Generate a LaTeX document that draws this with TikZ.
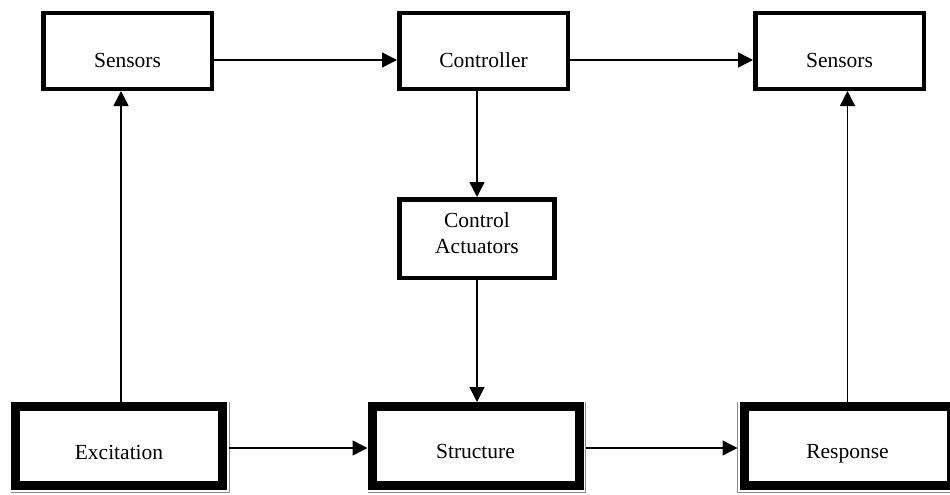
\documentclass[tikz,border=0pt]{standalone}
\usepackage{fontspec}
\setmainfont{Liberation Serif}
\usetikzlibrary{arrows.meta}
\begin{document}
\begin{tikzpicture}[x=1pt,y=-1pt,
  topbox/.style={draw=black, line width=4.5pt, minimum width=168.5pt, minimum height=75.5pt, inner sep=0pt, fill=white},
  midbox/.style={draw=black, line width=4.5pt, minimum width=155pt, minimum height=78.5pt, inner sep=0pt, fill=white},
  botbox/.style={draw=black, line width=9pt, minimum width=207pt, minimum height=79pt, inner sep=0pt, fill=white},
  lbl/.style={font=\fontsize{21.5}{26}\selectfont, anchor=base, inner sep=0pt, align=center},
  arr/.style={line width=1.4pt, -{Triangle[length=15pt, width=15pt]}},
  edge/.style={draw=black!45, line width=1pt}
]
\useasboundingbox (0,0) rectangle (950,495);

% top row
\node[topbox] (s1) at (127.5,51) {};
\node[topbox] (ctrl) at (483.5,51) {};
\node[topbox] (s2) at (839.5,51) {};
% middle
\node[midbox] (ca) at (477,238.5) {};
% bottom row
\node[botbox] (exc) at (119,446) {};
\node[botbox] (str) at (475.5,446) {};
\node[botbox] (resp) at (847.5,446) {};

% thin outer edges of bottom boxes
\draw[edge] ([xshift=2pt]exc.north east) -- ([shift={(2pt,-2pt)}]exc.south east) -- ([yshift=-2pt]exc.south west);
\draw[edge] ([xshift=2pt]str.north east) -- ([shift={(2pt,-2pt)}]str.south east) -- ([yshift=-2pt]str.south west);
\draw[edge] ([xshift=-2pt]resp.north west) -- ([shift={(-2pt,-2pt)}]resp.south west) -- ([yshift=-2pt]resp.south east);

% labels
\node[lbl] (t1) at ([yshift=-16pt]s1.center) {Sensors};
\node[lbl] (t2) at ([yshift=-16pt]ctrl.center) {Controller};
\node[lbl] (t3) at ([yshift=-16pt]s2.center) {Sensors};
\node[lbl] (t4) at ([yshift=-14.5pt]ca.center) {Control\\Actuators};
\node[lbl] (t5) at ([yshift=-13pt]exc.center) {Excitation};
\node[lbl] (t6) at ([yshift=-12pt]str.center) {Structure};
\node[lbl] (t7) at ([yshift=-12pt]resp.center) {Response};

% connectors
\draw[arr] ([yshift=-9pt]s1.east) -- ([yshift=-9pt]ctrl.west);
\draw[arr] ([yshift=-9pt]ctrl.east) -- ([yshift=-9pt]s2.west);
\draw[arr] (ctrl.south -| ca.north) -- (ca.north);
\draw[arr] (ca.south) -- (ca.south |- str.north);
\draw[arr] ([shift={(2pt,-2pt)}]exc.east) -- ([yshift=-2pt]str.west);
\draw[arr] ([shift={(2pt,-2pt)}]str.east) -- ([shift={(-2pt,-2pt)}]resp.west);
\draw[arr] ([xshift=2pt]exc.north) -- ([xshift=2pt]exc.north |- s1.south);
\draw[arr] (resp.north) -- (resp.north |- s2.south);
\end{tikzpicture}
\end{document}
